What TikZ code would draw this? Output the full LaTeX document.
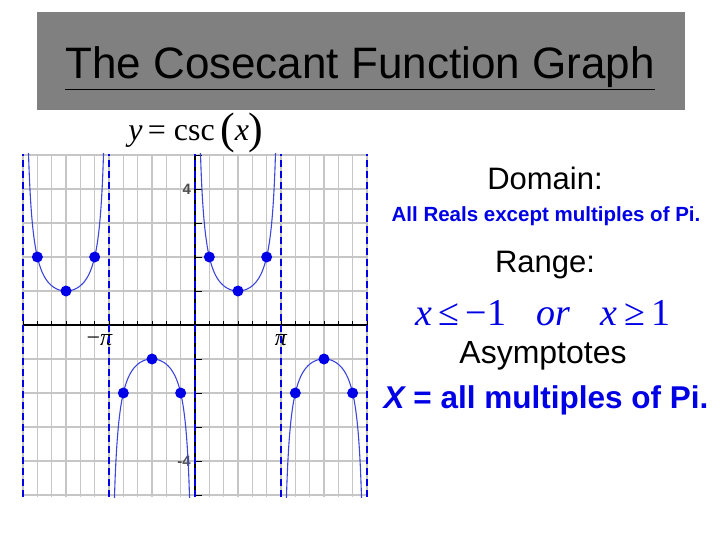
\documentclass[tikz,border=0pt]{standalone}
\usepackage{fontspec}
\setmainfont{Liberation Sans}
\newfontfamily\tms{Liberation Serif}
\begin{document}
\begin{tikzpicture}[x=1pt,y=-1pt]
\definecolor{ttlgray}{RGB}{128,128,128}
\definecolor{bblue}{RGB}{0,0,230}
\definecolor{cblue}{RGB}{60,70,220}
\tikzset{lbl/.style={inner sep=0pt,anchor=center},
 asym/.style={bblue,line width=2.2pt,dash pattern=on 7pt off 4pt},
 dot/.style={circle,fill=bblue,inner sep=0pt,minimum size=11pt}}
\useasboundingbox (0,0) rectangle (720,540);
\fill[ttlgray] (37,12) rectangle (685,110);
\node[lbl] (title) at (360,68) {\fontsize{44}{48}\selectfont\underline{The Cosecant Function Graph}};
\node[lbl] (formula) at (196,133) {\tms\fontsize{32}{36}\selectfont\itshape y\,\upshape = csc\,\raisebox{-3pt}{\fontsize{44}{46}\selectfont(}\itshape x\upshape\raisebox{-3pt}{\fontsize{44}{46}\selectfont)}};
\begin{scope}[shift={(195,325)},x=27.37pt,y=34pt]
 \foreach \k in {-12,...,12} \draw[gray!45,line width=1.2pt] ({\k*pi/6},-5.06) -- ({\k*pi/6},5.03);
 \foreach \j in {-5,...,5} \draw[gray!45,line width=1.2pt] (-2*pi,\j) -- (2*pi,\j);
 \draw[black,line width=1.2pt] (-2*pi,0) -- (2*pi,0);
 \draw[black,line width=1.2pt] (0,-5.06) -- (0,5.03);
 \foreach \k in {-12,...,12} \draw[black] ({\k*pi/6},0) -- ({\k*pi/6},0.12);
 \foreach \j in {-5,...,5} \draw[black] (0,\j) -- (0.25,\j);
 \node[lbl,gray!60!black,font=\bfseries\fontsize{15}{16}\selectfont] (l4) at (-0.3,4) {4};
 \node[lbl,gray!60!black,font=\bfseries\fontsize{15}{16}\selectfont] (lm4) at (-0.4,-4) {-4};
 \node[lbl,font=\tms\fontsize{24}{26}\selectfont] (mpi) at (-pi-0.35,-0.45) {−\itshape π};
 \node[lbl,font=\tms\fontsize{24}{26}\selectfont] (ppi) at (pi,-0.45) {\itshape π};
 \begin{scope}
 \clip (-2*pi,-5.06) rectangle (2*pi,5.03);
 \foreach \k in {-2,...,1}
  \draw[cblue,line width=1.1pt] plot[domain={\k*pi+0.19}:{(\k+1)*pi-0.19},samples=80,smooth] (\x,{1/sin(\x r)});
 \end{scope}
 \foreach \x in {-2,-1,0,1,2} \draw[asym] ({\x*pi},-5.06) -- ({\x*pi},5.03);
 \foreach \k/\s in {-2/1,-1/-1,0/1,1/-1}{
  \node[dot] at ({\k*pi+pi/6},{2*\s}) {};
  \node[dot] at ({\k*pi+pi/2},{\s}) {};
  \node[dot] at ({\k*pi+5*pi/6},{2*\s}) {};
 }
\end{scope}
\node[lbl,font=\fontsize{31}{34}\selectfont] (dom) at (545,178) {Domain:};
\node[lbl,bblue,font=\bfseries\fontsize{20.5}{23}\selectfont] (domt) at (546,216) {All Reals except multiples of Pi.};
\node[lbl,font=\fontsize{31}{34}\selectfont] (rng) at (545,265) {Range:};
\node[lbl,bblue,font=\tms\fontsize{38}{40}\selectfont] (rngt) at (543,313) {\itshape x\,\upshape≤\,−1\hspace{0.8em}\itshape or\hspace{0.8em}x\,\upshape≥\,1};
\node[lbl,font=\fontsize{32}{34}\selectfont] (asy) at (543,356) {Asymptotes};
\node[lbl,bblue,font=\bfseries\fontsize{31.5}{34}\selectfont] (asyt) at (546,400) {\itshape X\upshape{} = all multiples of Pi.};
\end{tikzpicture}
\end{document}
